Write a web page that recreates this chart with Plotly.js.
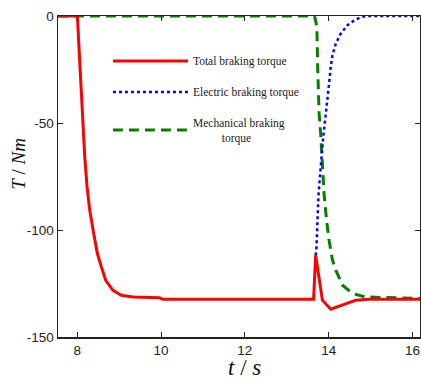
<!DOCTYPE html>
<html>
<head>
<meta charset="utf-8">
<script src="https://cdn.plot.ly/plotly-3.0.1.min.js"></script>
<style>
html,body{margin:0;padding:0;background:#fff;}
#chart{width:421px;height:381px;}
</style>
</head>
<body>
<div id="chart"></div>
<script>
// Total braking torque
var tTotal = [7.54, 8.004, 8.036, 8.067, 8.099, 8.139, 8.179, 8.234, 8.298, 8.393, 8.48, 8.576, 8.679, 8.853, 9.05, 9.33, 9.96, 10.04, 12.35, 13.64, 13.69, 13.77, 13.85, 14.05, 14.33, 14.65, 14.96, 16.18];
var TTotal = [0, 0, -12.9, -23.8, -39.4, -51.9, -65.9, -79.9, -90.8, -101.7, -111, -117.3, -123.5, -128.2, -130.5, -131.3, -131.7, -132.4, -132.4, -132.4, -111.8, -123.5, -132.8, -137, -135.2, -132.8, -132.4, -132.4];
// Electric braking torque
var tElec = [13.69, 13.71, 13.73, 13.76, 13.81, 13.87, 13.95, 14.01, 14.05, 14.09, 14.17, 14.29, 14.45, 14.61, 14.77, 14.92, 16.18];
var TElec = [-111.8, -107.8, -97, -83, -70.6, -56.5, -42.5, -30, -23.8, -18.4, -12.9, -8.2, -4.3, -2, -0.5, 0, 0];
// Mechanical braking torque
var tMech = [7.54, 13.66, 13.70, 13.72, 13.74, 13.77, 13.81, 13.85, 13.89, 13.95, 14.01, 14.09, 14.17, 14.33, 14.57, 14.88, 15.28, 16.18];
var TMech = [0, 0, -3, -6.7, -25, -45, -55, -69, -83, -95.5, -104.8, -114, -118.8, -125.8, -129.7, -131.3, -131.6, -132];

var NB = '\u00A0';
var names = ['Total braking torque', 'Electric braking torque', 'Mechanical braking<br>' + NB.repeat(10) + 'torque'];
var xTicks = [8, 10, 12, 14, 16];
var yTicks = [0, -50, -100, -150];

var traces = [
  {x: tMech, y: TMech, name: names[2], mode: 'lines', legendrank: 3, legendgroup: 'c',
   line: {color: '#008000', width: 3, dash: '10px,6px'}},
  {x: tElec, y: TElec, name: names[1], mode: 'lines', legendrank: 2, legendgroup: 'b',
   line: {color: '#0000ff', width: 2.5, dash: 'dot'}},
  {x: tTotal, y: TTotal, name: names[0], mode: 'lines', legendrank: 1, legendgroup: 'a',
   line: {color: '#ff0000', width: 3}}
];

var axisCommon = {
  showgrid: false, zeroline: false, showline: true, linecolor: '#222', linewidth: 1.5,
  mirror: 'ticks', ticks: 'inside', ticklen: 5, tickwidth: 1, tickcolor: '#222',
  tickfont: {family: 'Liberation Sans, Arial, sans-serif', size: 13.5, color: '#222'}
};

var serif = 'Liberation Serif, Times New Roman, serif';

var layout = {
  width: 421, height: 381,
  margin: {l: 58, r: 1, t: 16, b: 44},
  paper_bgcolor: '#fff', plot_bgcolor: '#fff',
  showlegend: true,
  legend: {x: 0.138, y: 0.905, xanchor: 'left', yanchor: 'top', bgcolor: 'rgba(0,0,0,0)',
           traceorder: 'grouped', tracegroupgap: 12, itemwidth: 75,
           font: {family: serif, size: 11.5, color: '#222'}},
  xaxis: Object.assign({}, axisCommon, {range: [7.54, 16.18], tickvals: xTicks, ticktext: xTicks.map(String)}),
  yaxis: Object.assign({}, axisCommon, {range: [-150, 0], tickvals: yTicks, ticktext: yTicks.map(String)}),
  annotations: [
    {text: '<i>T</i> / <i>Nm</i>', xref: 'paper', yref: 'paper', x: -0.11, y: 0.54,
     xanchor: 'center', yanchor: 'middle', textangle: -90, showarrow: false,
     font: {family: serif, size: 19, color: '#111'}},
    {text: '<i>t</i> / <i>s</i>', xref: 'paper', yref: 'paper', x: 0.515, y: -0.05,
     xanchor: 'center', yanchor: 'top', showarrow: false,
     font: {family: serif, size: 23, color: '#111'}}
  ]
};

Plotly.newPlot('chart', traces, layout, {displayModeBar: false, staticPlot: true});
</script>
</body>
</html>
